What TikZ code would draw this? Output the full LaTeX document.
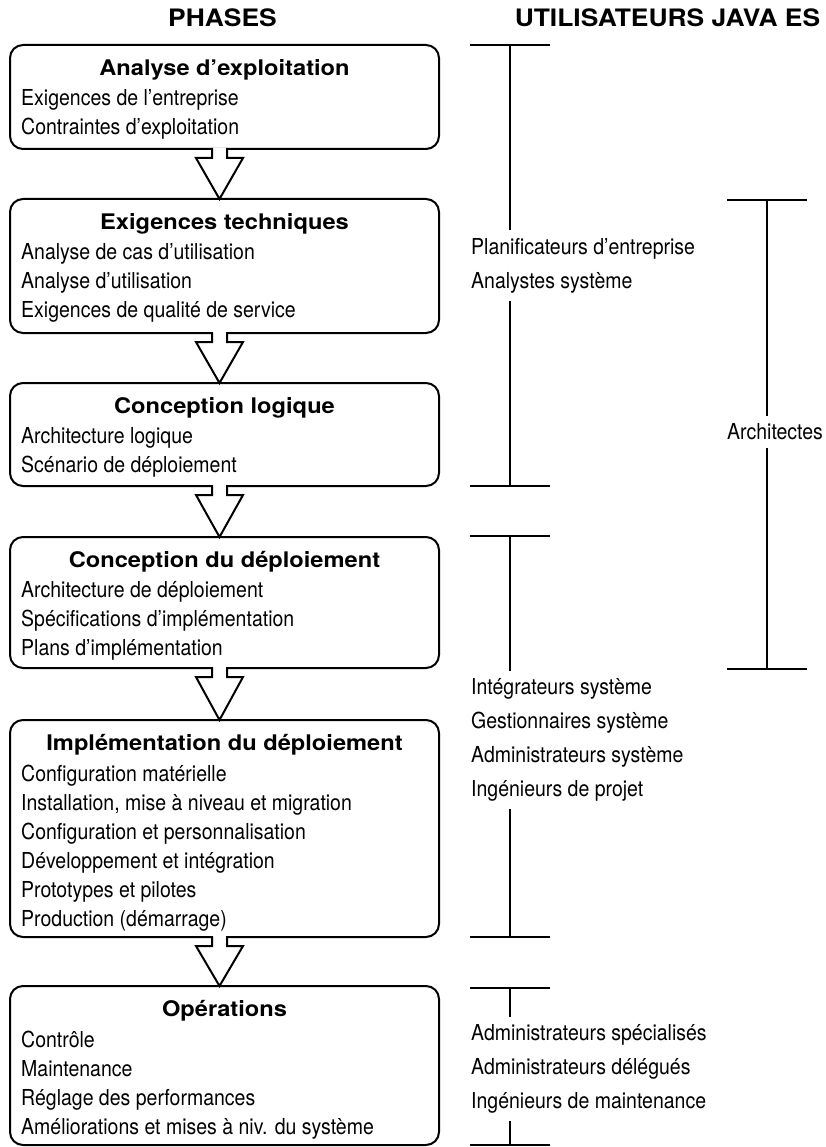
\documentclass[tikz,border=0pt]{standalone}
\usepackage{fontspec}
\setmainfont{TeX Gyre Heros}
\newfontfamily\etroit{TeX Gyre Heros}[FakeStretch=0.886]
\newfontfamily\elargi{TeX Gyre Heros}[FakeStretch=1.1]
\usetikzlibrary{positioning}

\tikzset{
  phase/.style={draw, line width=2pt, rounded corners=13pt, minimum width=429pt,
    inner sep=0pt, outer sep=0pt},
  titre/.style={font=\elargi\fontsize{21.5}{25}\selectfont\bfseries, inner sep=0pt},
  liste/.style={font=\etroit\fontsize{22}{29}\selectfont, align=left, inner sep=0pt},
  entete/.style={font=\elargi\fontsize{24}{28}\selectfont\bfseries, inner sep=0pt},
  fleche/.style={draw, line width=2pt, fill=white, line join=miter},
  barre/.style={line width=2.5pt},
  role/.style={font=\etroit\fontsize{22}{34}\selectfont, align=left, inner sep=0pt,
    outer ysep=8pt, anchor=north west},
}

% fleche creuse entre deux phases
\newcommand{\flechephase}[2]{%
  \draw[fleche] ([xshift=-12.5pt,yshift=1pt]#1.south) -- ++(0,10) -- ++(-16,0)
    -- ([xshift=-5pt]#2.north) -- ([xshift=18.5pt,yshift=-9pt]#1.south)
    -- ++(-16,0) -- ([xshift=2.5pt,yshift=1pt]#1.south);}

\begin{document}
\begin{tikzpicture}[x=1pt,y=-1pt]
  \useasboundingbox (0,0) rectangle (825,1147);

  \node[entete] (hphases) at (222.5,17.5) {PHASES};
  \node[entete] (husers) at (667.5,17.5) {UTILISATEURS JAVA ES};

  % phases
  \node[phase, minimum height=104pt] (ana) at (224.5,97) {};
  \node[phase, minimum height=134pt, below=50pt of ana] (exi) {};
  \node[phase, minimum height=103pt, below=50pt of exi] (log) {};
  \node[phase, minimum height=131pt, below=51pt of log] (dep) {};
  \node[phase, minimum height=217pt, below=52pt of dep] (imp) {};
  \node[phase, minimum height=159pt, below=49pt of imp] (ope) {};

  \node[titre, below=14pt of ana.north] (anaT) {Analyse d’exploitation};
  \node[liste, below right=44.5pt and 11pt of ana.north west] (anaL)
    {Exigences de l’entreprise\\Contraintes d’exploitation};

  \node[titre, below=14pt of exi.north] (exiT) {Exigences techniques};
  \node[liste, below right=44.5pt and 11pt of exi.north west] (exiL)
    {Analyse de cas d’utilisation\\Analyse d’utilisation\\Exigences de qualité de service};

  \node[titre, below=14pt of log.north] (logT) {Conception logique};
  \node[liste, below right=44.5pt and 11pt of log.north west] (logL)
    {Architecture logique\\Scénario de déploiement};

  \node[titre, below=14pt of dep.north] (depT) {Conception du déploiement};
  \node[liste, below right=44.5pt and 11pt of dep.north west] (depL)
    {Architecture de déploiement\\Spécifications d’implémentation\\Plans d’implémentation};

  \node[titre, below=14pt of imp.north] (impT) {Implémentation du déploiement};
  \node[liste, below right=44.5pt and 11pt of imp.north west] (impL)
    {Configuration matérielle\\Installation, mise à niveau et migration\\
     Configuration et personnalisation\\Développement et intégration\\
     Prototypes et pilotes\\Production (démarrage)};

  \node[titre, below=14pt of ope.north] (opeT) {Opérations};
  \node[liste, below right=44.5pt and 11pt of ope.north west] (opeL)
    {Contrôle\\Maintenance\\Réglage des performances\\Améliorations et mises à niv. du système};

  \flechephase{ana}{exi}
  \flechephase{exi}{log}
  \flechephase{log}{dep}
  \flechephase{dep}{imp}
  \flechephase{imp}{ope}

  % utilisateurs
  \coordinate (hautA) at (510,45);
  \coordinate (basA) at (510,486);
  \coordinate (hautB) at (510,536);
  \coordinate (basB) at (510,937);
  \coordinate (hautC) at (510,988);
  \coordinate (basC) at (510,1145);
  \coordinate (hautR) at (767,200);
  \coordinate (basR) at (767,669);

  \node[role] (plan) at (471,230.5) {Planificateurs d’entreprise\\Analystes système};
  \node[role] (integ) at (471,670.5) {Intégrateurs système\\Gestionnaires système\\
    Administrateurs système\\Ingénieurs de projet};
  \node[role] (admin) at (471,1016.5) {Administrateurs spécialisés\\Administrateurs délégués\\
    Ingénieurs de maintenance};
  \node[role] (archi) at (727,415.5) {Architectes};

  \foreach \b in {hautA,basA,hautB,basB,hautC,basC,hautR,basR}
    \draw[barre] ([xshift=-40pt]\b) -- ([xshift=40pt]\b);
  \draw[barre] (hautA) -- (plan.north -| hautA)
               (plan.south -| basA) -- (basA);
  \draw[barre] (hautB) -- (integ.north -| hautB)
               (integ.south -| basB) -- (basB);
  \draw[barre] (hautC) -- (admin.north -| hautC)
               (admin.south -| basC) -- (basC);
  \draw[barre] (hautR) -- (archi.north -| hautR)
               (archi.south -| basR) -- (basR);
\end{tikzpicture}
\end{document}
